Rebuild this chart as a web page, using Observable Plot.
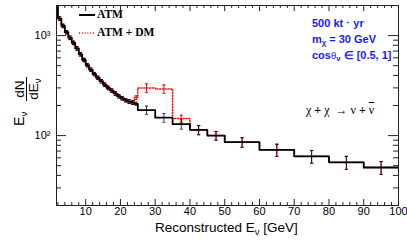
<!DOCTYPE html>
<html><head><meta charset="utf-8">
<script src="https://cdn.jsdelivr.net/npm/d3@7"></script>
<script src="https://cdn.jsdelivr.net/npm/@observablehq/plot@0.6"></script>
<style>
body{margin:0;background:#fff;}
#wrap{position:relative;width:407px;height:243px;font-family:"Liberation Sans",Arial,sans-serif;overflow:hidden;}
#wrap svg{position:absolute;left:0;top:0;}
.ov{position:absolute;white-space:nowrap;line-height:1;}
.ov sub{font-size:0.7em;vertical-align:-0.3em;line-height:0;}
.blue{color:#1a1aff;font-weight:bold;font-size:11px;}
.leg{font-family:"Liberation Serif",serif;font-weight:bold;font-size:11.5px;}
</style></head><body><div id="wrap"></div>
<script>
// bin edges of the reconstructed-energy histogram (GeV)
const binEdges = [1,2,3,4,5,6,7,8,9,10,11,12,13,14,15,16,17,18,19,20,21,22,23,24,25,30,35,40,45,50,60,70,80,90,100];
// ATM only
const atmValues = [2300,1480,1250,1080,950,845,745,650,570,505,455,412,378,350,322,300,282,264,248,236,226,219,214,208,180,151,130,114,100,86,72,62,54,48];
const atmErrors = [92,59,50,43,38,34,30,26,23,20,18,16,15,14,13,12,11,11,10,9,9,9,9,8,17,15,14,12,10,9.5,10,9,8,7];
// ATM + DM
const dmValues = [2300,1480,1250,1080,950,845,745,650,570,505,455,412,378,350,322,300,282,264,248,236,226,219,214,240,300,293,148,114,100,86,72,62,54,48];
const dmErrors = [92,59,50,43,38,34,30,26,23,20,18,16,15,14,13,12,11,11,10,9,9,9,9,10,29,28,12,12,10,9.5,10,9,8,7];
// ticks
const xMajorTicks = [10,20,30,40,50,60,70,80,90,100];
const xMinorTicks = [2,4,6,8,12,14,16,18,22,24,26,28,32,34,36,38,42,44,46,48,52,54,56,58,62,64,66,68,72,74,76,78,82,84,86,88,92,94,96,98];
const yMajorTicks = [100,1000];
const yTickLabels = ["10²","10³"];
const yMinorTicks = [30,40,50,60,70,80,90,200,300,400,500,600,700,800,900];

function stairs(values){
  const pts = values.map((v,i)=>({x: binEdges[i], y: v}));
  pts.push({x: binEdges[binEdges.length-1], y: values[values.length-1]});
  return pts;
}
function bars(values, errs){
  return values.map((v,i)=>({x:(binEdges[i]+binEdges[i+1])/2, lo: v-errs[i], hi: v+errs[i]}));
}
const capSymbol = {draw(ctx, size){ const r = Math.sqrt(size)/2; ctx.moveTo(-r,0); ctx.lineTo(r,0);} };

const atmBars = bars(atmValues, atmErrors);
const dmBars = bars(dmValues, dmErrors);
const FW = 342, FH = 200;

const chart = Plot.plot({
  width: 407, height: 243,
  marginTop: 5, marginBottom: 38, marginLeft: 56, marginRight: 9,
  style: {fontFamily: "Liberation Sans, Arial, sans-serif", fontSize: "11px", background: "white", color: "#000"},
  x: {domain: [1.6, 100]},
  y: {type: "log", domain: [20, 2000]},
  marks: [
    Plot.line(stairs(dmValues), {x: "x", y: "y", curve: "step-after", stroke: "#ff0000", strokeWidth: 1.5, strokeDasharray: "1,1.8", clip: true}),
    Plot.ruleX(dmBars, {x: "x", y1: "lo", y2: "hi", stroke: "#e00000", strokeWidth: 1, clip: true}),
    Plot.dot(dmBars, {x: "x", y: "lo", symbol: capSymbol, r: 1.8, stroke: "#e00000", strokeWidth: 1, clip: true}),
    Plot.dot(dmBars, {x: "x", y: "hi", symbol: capSymbol, r: 1.8, stroke: "#e00000", strokeWidth: 1, clip: true}),
    Plot.line(stairs(atmValues), {x: "x", y: "y", curve: "step-after", stroke: "#000", strokeWidth: 1.8, clip: true}),
    Plot.ruleX(atmBars, {x: "x", y1: "lo", y2: "hi", stroke: "#000", strokeWidth: 1, strokeOpacity: 0.75, clip: true}),
    Plot.dot(atmBars, {x: "x", y: "lo", symbol: capSymbol, r: 1.8, stroke: "#000", strokeWidth: 1, strokeOpacity: 0.75, clip: true}),
    Plot.dot(atmBars, {x: "x", y: "hi", symbol: capSymbol, r: 1.8, stroke: "#000", strokeWidth: 1, strokeOpacity: 0.75, clip: true}),
    // inward ticks on all four sides
    Plot.ruleX(xMajorTicks, {insetTop: FH - 6, stroke: "#222"}),
    Plot.ruleX(xMinorTicks, {insetTop: FH - 3, stroke: "#222"}),
    Plot.ruleX(xMajorTicks, {insetBottom: FH - 6, stroke: "#222"}),
    Plot.ruleX(xMinorTicks, {insetBottom: FH - 3, stroke: "#222"}),
    Plot.ruleY(yMajorTicks, {insetRight: FW - 10, stroke: "#222"}),
    Plot.ruleY(yMinorTicks, {insetRight: FW - 5, stroke: "#222"}),
    Plot.ruleY(yMajorTicks, {insetLeft: FW - 10, stroke: "#222"}),
    Plot.ruleY(yMinorTicks, {insetLeft: FW - 5, stroke: "#222"}),
    Plot.frame({stroke: "#222"}),
    Plot.axisX(xMajorTicks, {tickSize: 0, tickPadding: 2, fontSize: 11, label: null}),
    Plot.axisY(yMajorTicks, {tickSize: 0, tickPadding: 6, fontSize: 11, label: null, tickFormat: d => yTickLabels[yMajorTicks.indexOf(d)]})
  ]
});
const wrap = document.getElementById("wrap");
wrap.appendChild(chart);

function addDiv(html, css, cls){
  const d = document.createElement("div");
  d.className = "ov" + (cls ? " " + cls : "");
  d.innerHTML = html;
  Object.assign(d.style, css);
  wrap.appendChild(d);
  return d;
}
// legend
const legendLabels = ["ATM", "ATM + DM"];
addDiv('<svg width="16" height="4"><line x1="0" y1="2" x2="16" y2="2" stroke="#000" stroke-width="2"/></svg>', {left: "79px", top: "13px"});
addDiv('<svg width="16" height="4"><line x1="0" y1="2" x2="16" y2="2" stroke="#ff0000" stroke-width="1.5" stroke-dasharray="1,1.8"/></svg>', {left: "79px", top: "31px"});
addDiv(legendLabels[0], {left: "97px", top: "9.3px"}, "leg");
addDiv(legendLabels[1], {left: "97px", top: "27px"}, "leg");
// annotations
addDiv('500 kt &#8901; yr', {left: "312px", top: "17.6px"}, "blue");
addDiv('m<sub>χ</sub> = 30 GeV', {left: "312px", top: "33.6px"}, "blue");
addDiv('cos<span style="font-weight:normal;font-family:\'Liberation Serif\',serif">θ</span><sub>ν</sub> ∈ [0.5, 1]', {left: "312px", top: "49.6px"}, "blue");
addDiv('χ <b>+</b> χ &nbsp;→ ν <b>+</b> <span style="text-decoration:overline">ν</span>', {left: "306px", top: "104px", fontSize: "12px", fontFamily: "'Liberation Serif',serif"});
// x label
addDiv('Reconstructed E<sub>ν</sub> [GeV]', {left: "155px", top: "220.6px", fontSize: "13.5px"});
// y label (rotated)
const yl = addDiv('', {left: "12px", top: "126px", width: "52px", height: "28px", transformOrigin: "0 0", transform: "rotate(-90deg)", fontSize: "13.5px"});
yl.innerHTML = '<span style="position:absolute;left:0;top:0;font-size:14px">E</span>' +
  '<span style="position:absolute;left:9.5px;top:7px;font-size:9.5px">ν</span>' +
  '<span style="position:absolute;left:25px;top:1px;width:24px;text-align:center">dN</span>' +
  '<span style="position:absolute;left:25px;top:13.5px;width:24px;height:0;border-top:1px solid #000"></span>' +
  '<span style="position:absolute;left:25px;top:15px;width:24px;text-align:center">dE<span style="font-size:9.5px;position:relative;top:3px">ν</span></span>';
</script></body></html>
